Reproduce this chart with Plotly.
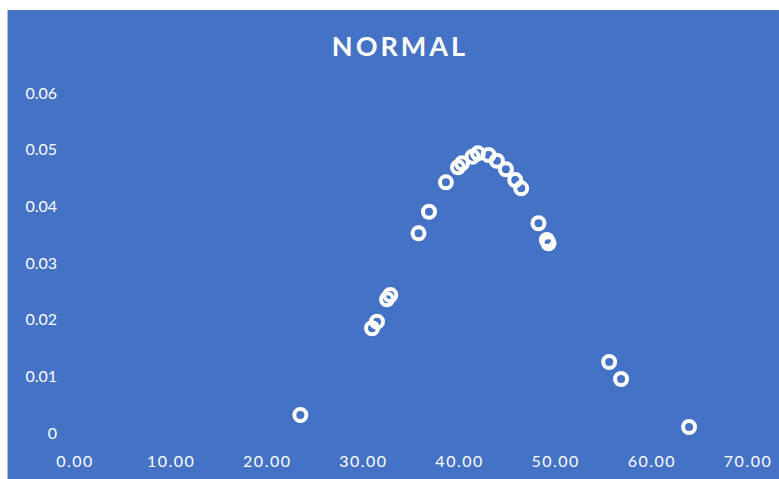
import plotly.graph_objects as go

# Sample values (x) and their normal density (y)
x_vals = [23.44, 30.89, 31.41, 32.45, 32.79, 35.73, 36.82, 38.58, 39.83, 40.25,
          41.35, 41.91, 43.01, 43.88, 44.82, 45.79, 46.41, 48.21, 49.08, 49.25,
          55.56, 56.80, 63.87]
y_vals = [0.00318, 0.01848, 0.01964, 0.02359, 0.02435, 0.03524, 0.03905, 0.04424,
          0.04689, 0.04759, 0.04876, 0.04936, 0.04906, 0.04805, 0.04654, 0.04465,
          0.04318, 0.03701, 0.03406, 0.03348, 0.01253, 0.00953, 0.00106]

x_ticks = [0, 10, 20, 30, 40, 50, 60, 70]
y_ticks = [0, 0.01, 0.02, 0.03, 0.04, 0.05, 0.06]
y_tick_text = ["0", "0.01", "0.02", "0.03", "0.04", "0.05", "0.06"]

BLUE = "#4472C4"
FONT = "Lato"


def spaced(text, px):
    return f'<span style="letter-spacing:{px}px">{text}</span>'


fig = go.Figure(
    go.Scatter(
        x=x_vals, y=y_vals, mode="markers",
        marker=dict(symbol="circle-open", size=12, color="white",
                    line=dict(width=4, color="white")),
        cliponaxis=False,
    )
)

W, H = 779, 479
L, R, T, B = 74.5, 31, 93, 46
pw, ph = W - L - R, H - T - B

fig.update_layout(
    width=W, height=H,
    margin=dict(l=L, r=R, t=T, b=B, pad=0, autoexpand=False),
    paper_bgcolor="white",
    plot_bgcolor="rgba(0,0,0,0)",
    showlegend=False,
    title=dict(text="<b>" + spaced("NORMAL", 3) + "</b>", x=400 / W, xref="container",
               xanchor="center", y=1 - 47 / H, yref="container", yanchor="middle",
               font=dict(family=FONT, size=27, color="white")),
    font=dict(family=FONT, size=16, color="white"),
    shapes=[dict(type="rect", xref="paper", yref="paper", layer="below",
                 x0=(7 - L) / pw, x1=(W - L) / pw,
                 y0=-B / ph, y1=((H - B) - 10) / ph,
                 fillcolor=BLUE, line=dict(width=0))],
)

fig.update_xaxes(range=[0, 70], tickvals=x_ticks,
                 ticktext=[spaced(f"{v:.2f}", 1.5) for v in x_ticks],
                 showgrid=False, zeroline=False, showline=False, ticks="",
                 ticklabelstandoff=17, automargin=False)
fig.update_yaxes(range=[0, 0.06], tickvals=y_ticks, ticktext=y_tick_text,
                 showgrid=False, zeroline=False, showline=False, ticks="",
                 ticklabelstandoff=17, automargin=False)

fig.write_html("out.html")
